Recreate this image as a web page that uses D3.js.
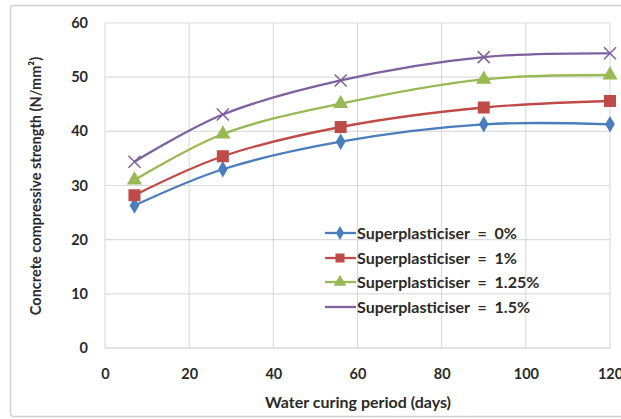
<!DOCTYPE html>
<html>
<head>
<meta charset="utf-8">
<script src="https://cdn.jsdelivr.net/npm/d3@7"></script>
<style>
  body { margin: 0; background: #fff; }
  svg text { font-family: Lato, "Open Sans", sans-serif; font-weight: bold; fill: #2a2a2a; white-space: pre; }
</style>
</head>
<body>
<svg id="chart" width="621" height="419"></svg>
<script>
// curing days
const days = [7, 28, 56, 90, 120];
// compressive strength (N/mm²) per superplasticiser dosage
const sp0 = [26.3, 33.0, 38.1, 41.3, 41.3];
const sp1 = [28.2, 35.4, 40.8, 44.4, 45.6];
const sp125 = [31.0, 39.5, 45.1, 49.6, 50.4];
const sp15 = [34.4, 43.1, 49.4, 53.7, 54.4];
const seriesNames = ['Superplasticiser  =  0%', 'Superplasticiser  =  1%', 'Superplasticiser  =  1.25%', 'Superplasticiser  =  1.5%'];
const xTicks = [0, 20, 40, 60, 80, 100, 120];
const yTicks = [0, 10, 20, 30, 40, 50, 60];

const series = [
  { name: seriesNames[0], values: sp0, color: '#4a7ebb', marker: 'diamond' },
  { name: seriesNames[1], values: sp1, color: '#be4b48', marker: 'square' },
  { name: seriesNames[2], values: sp125, color: '#98b954', marker: 'triangle' },
  { name: seriesNames[3], values: sp15, color: '#7d60a0', marker: 'cross' }
];

const svg = d3.select('#chart');

// chart frame
svg.append('rect')
  .attr('x', 10.5).attr('y', 5.5)
  .attr('width', 630).attr('height', 411)
  .attr('rx', 3)
  .attr('fill', 'none')
  .attr('stroke', '#d0d0d0')
  .attr('stroke-width', 1.5);

const x = d3.scaleLinear().domain([0, 120]).range([105, 610]);
const y = d3.scaleLinear().domain([0, 60]).range([348, 23]);

// gridlines
svg.append('g').selectAll('line').data(yTicks).join('line')
  .attr('x1', x(0)).attr('x2', x(120))
  .attr('y1', d => y(d)).attr('y2', d => y(d))
  .attr('stroke', d => d === 0 ? '#c8c8c8' : '#dcdcdc')
  .attr('stroke-width', 1.2);
svg.append('g').selectAll('line').data(xTicks).join('line')
  .attr('x1', d => x(d)).attr('x2', d => x(d))
  .attr('y1', y(0)).attr('y2', y(60))
  .attr('stroke', '#d6d6d6')
  .attr('stroke-width', 1);

// axes (labels only)
const xAxis = svg.append('g')
  .attr('transform', `translate(0,${y(0)})`)
  .call(d3.axisBottom(x).tickValues(xTicks).tickSize(0).tickPadding(21));
xAxis.select('.domain').remove();
xAxis.selectAll('text').style('font-size', '14.5px').attr('fill', '#2a2a2a');

const yAxis = svg.append('g')
  .attr('transform', `translate(${x(0)},0)`)
  .call(d3.axisLeft(y).tickValues(yTicks).tickSize(0).tickPadding(17));
yAxis.select('.domain').remove();
yAxis.selectAll('text').style('font-size', '14.5px').attr('fill', '#2a2a2a');

// axis titles
svg.append('text')
  .attr('x', 358).attr('y', 408)
  .attr('text-anchor', 'middle')
  .style('font-size', '16px')
  .text('Water curing period (days)');

svg.append('text')
  .attr('transform', 'translate(41,186) rotate(-90)')
  .attr('text-anchor', 'middle')
  .style('font-size', '14.5px')
  .text('Concrete compressive strength (N/mm²)');

// lines
const line = d3.line()
  .x((d, i) => x(days[i]))
  .y(d => y(d))
  .curve(d3.curveCatmullRom.alpha(0.5));

function drawMarker(g, type, color, size) {
  if (type === 'diamond') {
    g.append('path').attr('d', d3.symbol(d3.symbolDiamond, size * 8)()).attr('fill', color);
  } else if (type === 'square') {
    g.append('rect').attr('x', -size / 2 - 1).attr('y', -size / 2 - 1)
      .attr('width', size + 2).attr('height', size + 2).attr('fill', color);
  } else if (type === 'triangle') {
    g.append('path').attr('d', d3.symbol(d3.symbolTriangle, size * 10)()).attr('fill', color);
  } else {
    const s = size / 2 + 1;
    g.append('path').attr('d', `M${-s},${-s}L${s},${s}M${-s},${s}L${s},${-s}`)
      .attr('stroke', color).attr('stroke-width', 1.5).attr('fill', 'none');
  }
}

series.forEach(s => {
  svg.append('path')
    .datum(s.values)
    .attr('d', line)
    .attr('fill', 'none')
    .attr('stroke', s.color)
    .attr('stroke-width', 2.3);

  s.values.forEach((v, i) => {
    const g = svg.append('g').attr('transform', `translate(${x(days[i])},${y(v)})`);
    drawMarker(g, s.marker, s.color, 10);
  });
});

// legend
const legendY = [233, 258, 282, 307];
series.forEach((s, i) => {
  const g = svg.append('g').attr('transform', `translate(0,${legendY[i]})`);
  g.append('line').attr('x1', 325).attr('x2', 356).attr('y1', 0).attr('y2', 0)
    .attr('stroke', s.color).attr('stroke-width', 2.3);
  if (s.marker !== 'cross') {
    const m = g.append('g').attr('transform', 'translate(340,0)');
    drawMarker(m, s.marker, s.color, 7);
  }
  g.append('text')
    .attr('x', 357).attr('y', 0).attr('dy', '0.35em')
    .style('font-size', '16px')
    .attr('fill', '#1e1e1e')
    .text(s.name);
});
</script>
</body>
</html>
